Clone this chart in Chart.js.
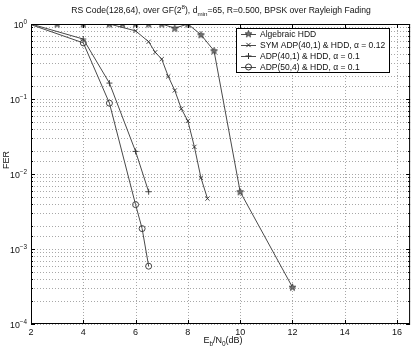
<!DOCTYPE html>
<html>
<head>
<meta charset="utf-8">
<script src="https://cdn.jsdelivr.net/npm/chart.js@4.4.1/dist/chart.umd.min.js"></script>
<style>
  html, body { margin: 0; padding: 0; background: #fff; }
  #wrap { width: 415px; height: 352px; }
</style>
</head>
<body>
<div id="wrap"><canvas id="grafica"></canvas></div>
<script>
// Datos (Eb/N0 en dB, FER)
const ebnoHdd = [3, 4, 5, 5.5, 6, 6.5, 7, 7.5, 8, 8.5, 9, 10, 12];
const ferHdd = [1, 1, 1, 1, 1, 1, 1, 0.88, 1, 0.72, 0.44, 0.0058, 0.00031];

const ebnoSym = [5, 6, 6.5, 6.75, 7, 7.25, 7.5, 7.75, 8, 8.25, 8.5, 8.75];
const ferSym = [1, 0.81, 0.58, 0.42, 0.34, 0.20, 0.13, 0.074, 0.051, 0.023, 0.0089, 0.0047];

const ebnoAdp40 = [2, 4, 5, 6, 6.5];
const ferAdp40 = [1, 0.63, 0.163, 0.02, 0.0058];

const ebnoAdp50 = [2, 4, 5, 6, 6.25, 6.5];
const ferAdp50 = [0.98, 0.56, 0.088, 0.0039, 0.00187, 0.00059];

const etiquetas = [
    'Algebraic HDD',
    'SYM ADP(40,1) & HDD, \u03B1 = 0.12',
    'ADP(40,1) & HDD, \u03B1 = 0.1',
    'ADP(50,4) & HDD, \u03B1 = 0.1'
];
const xTicks = [2, 4, 6, 8, 10, 12, 14, 16];
const yDecadas = [0, -1, -2, -3, -4];

const FUENTE = '"Liberation Sans", Arial, sans-serif';
const LINEA = '#4a4a4a';

// Estrella de cinco puntas como marcador
function crearEstrella() {
    const c = document.createElement('canvas');
    c.width = 9; c.height = 9;
    const g = c.getContext('2d');
    g.beginPath();
    for (let i = 0; i < 10; i++) {
        const r = i % 2 === 0 ? 3.6 : 1.5;
        const a = -Math.PI / 2 + i * Math.PI / 5;
        const px = 4.5 + r * Math.cos(a), py = 4.8 + r * Math.sin(a);
        i === 0 ? g.moveTo(px, py) : g.lineTo(px, py);
    }
    g.closePath();
    g.fillStyle = '#777';
    g.fill();
    g.strokeStyle = '#333';
    g.lineWidth = 0.8;
    g.stroke();
    return c;
}
const estrella = crearEstrella();

const pares = (xs, ys) => xs.map((x, i) => ({ x: x, y: ys[i] }));
const radio = ctx => (ctx.raw && ctx.raw.x <= 2 ? 0 : 3);

const series = [
    { label: etiquetas[0], data: pares(ebnoHdd, ferHdd), pointStyle: estrella },
    { label: etiquetas[1], data: pares(ebnoSym, ferSym), pointStyle: 'crossRot' },
    { label: etiquetas[2], data: pares(ebnoAdp40, ferAdp40), pointStyle: 'cross' },
    { label: etiquetas[3], data: pares(ebnoAdp50, ferAdp50), pointStyle: 'circle' }
].map(s => Object.assign(s, {
    borderColor: LINEA,
    borderWidth: 1,
    backgroundColor: 'rgba(0,0,0,0)',
    pointBackgroundColor: 'rgba(0,0,0,0)',
    pointBorderColor: '#333',
    pointBorderWidth: 0.9,
    pointRadius: radio,
    tension: 0,
    fill: false
}));

// Texto con subindices / superindices
function textoRico(ctx, partes, x, y, size, align) {
    let ancho = 0;
    partes.forEach(p => {
        ctx.font = (p.s ? size * 0.72 : size) + 'px ' + FUENTE;
        ancho += ctx.measureText(p.t).width;
    });
    let cx = align === 'center' ? x - ancho / 2 : (align === 'right' ? x - ancho : x);
    ctx.textAlign = 'left';
    ctx.textBaseline = 'alphabetic';
    partes.forEach(p => {
        ctx.font = (p.s ? size * 0.72 : size) + 'px ' + FUENTE;
        const dy = p.s === 'sup' ? -size * 0.42 : (p.s === 'sub' ? size * 0.3 : 0);
        ctx.fillText(p.t, cx, y + dy);
        cx += ctx.measureText(p.t).width;
    });
}

// Rejilla punteada al estilo MATLAB
const rejilla = {
    id: 'rejilla',
    beforeDatasetsDraw(chart) {
        const { ctx, chartArea: a, scales } = chart;
        ctx.save();
        ctx.strokeStyle = '#a8a8a8';
        ctx.lineWidth = 1;
        ctx.setLineDash([1, 2]);
        ctx.beginPath();
        xTicks.forEach(v => {
            const px = Math.round(scales.x.getPixelForValue(v)) + 0.5;
            ctx.moveTo(px, a.top); ctx.lineTo(px, a.bottom);
        });
        scales.y.ticks.forEach(t => {
            const py = Math.round(scales.y.getPixelForValue(t.value)) + 0.5;
            ctx.moveTo(a.left, py); ctx.lineTo(a.right, py);
        });
        ctx.stroke();
        ctx.restore();
    }
};

const decoracion = {
    id: 'decoracion',
    afterDraw(chart) {
        const { ctx, chartArea: a, scales } = chart;
        const sx = scales.x, sy = scales.y;
        ctx.save();

        // Marco de los ejes
        ctx.strokeStyle = '#000';
        ctx.lineWidth = 1;
        ctx.strokeRect(a.left + 0.5, a.top + 0.5, a.right - a.left - 1, a.bottom - a.top - 1);

        // Marcas hacia dentro
        ctx.beginPath();
        xTicks.forEach(v => {
            const px = Math.round(sx.getPixelForValue(v)) + 0.5;
            ctx.moveTo(px, a.bottom); ctx.lineTo(px, a.bottom - 4);
            ctx.moveTo(px, a.top); ctx.lineTo(px, a.top + 4);
        });
        sy.ticks.forEach(t => {
            const py = Math.round(sy.getPixelForValue(t.value)) + 0.5;
            const mayor = Math.abs(Math.log10(t.value) - Math.round(Math.log10(t.value))) < 1e-6;
            const l = mayor ? 4 : 2;
            ctx.moveTo(a.left, py); ctx.lineTo(a.left + l, py);
            ctx.moveTo(a.right, py); ctx.lineTo(a.right - l, py);
        });
        ctx.stroke();

        ctx.fillStyle = '#111';
        // Etiquetas del eje X
        xTicks.forEach(v => {
            textoRico(ctx, [{ t: String(v) }], sx.getPixelForValue(v), a.bottom + 11, 9, 'center');
        });

        // Etiquetas del eje Y
        yDecadas.forEach(e => {
            const py = sy.getPixelForValue(Math.pow(10, e));
            textoRico(ctx, [{ t: '10' }, { t: e === 0 ? '0' : '\u2212' + (-e), s: 'sup' }], a.left - 4, py + 3.5, 8.8, 'right');
        });

        // Titulo
        textoRico(ctx, [
            { t: 'RS Code(128,64), over GF(2' }, { t: '8', s: 'sup' },
            { t: '), d' }, { t: 'min', s: 'sub' },
            { t: '=65, R=0.500, BPSK over Rayleigh Fading' }
        ], 221, 13, 8.6, 'center');

        // Titulo eje X
        textoRico(ctx, [{ t: 'E' }, { t: 'b', s: 'sub' }, { t: '/N' }, { t: '0', s: 'sub' }, { t: '(dB)' }],
            223, 343, 9, 'center');

        // Titulo eje Y
        ctx.save();
        ctx.translate(9, 160);
        ctx.rotate(-Math.PI / 2);
        textoRico(ctx, [{ t: 'FER' }], 0, 0, 9, 'center');
        ctx.restore();

        // Leyenda
        const bx = 236, by = 28, bw = 153, bh = 44, fila = 11;
        ctx.fillStyle = '#fff';
        ctx.fillRect(bx, by, bw, bh);
        ctx.strokeStyle = '#000';
        ctx.strokeRect(bx + 0.5, by + 0.5, bw, bh);
        chart.data.datasets.forEach((ds, i) => {
            const yy = by + 5.5 + i * fila;
            ctx.strokeStyle = LINEA;
            ctx.beginPath();
            ctx.moveTo(bx + 5, Math.round(yy) + 0.5);
            ctx.lineTo(bx + 20, Math.round(yy) + 0.5);
            ctx.stroke();
            if (ds.pointStyle instanceof HTMLCanvasElement) {
                ctx.drawImage(ds.pointStyle, bx + 12.5 - 4.5, yy - 4.3);
            } else {
                ctx.strokeStyle = '#333';
                ctx.fillStyle = 'rgba(0,0,0,0)';
                Chart.helpers.drawPoint(ctx, { pointStyle: ds.pointStyle, radius: 3, borderWidth: 0.9 }, bx + 12.5, yy + 0.5);
            }
            ctx.fillStyle = '#111';
            textoRico(ctx, [{ t: ds.label }], bx + 24, yy + 3.3, 8.5, 'left');
        });
        ctx.restore();
    }
};

new Chart(document.getElementById('grafica'), {
    type: 'line',
    data: { datasets: series },
    options: {
        responsive: true,
        maintainAspectRatio: false,
        animation: false,
        events: [],
        layout: { padding: { top: 24, right: 3, left: 0, bottom: 0 } },
        plugins: {
            legend: { display: false },
            title: { display: false },
            tooltip: { enabled: false }
        },
        scales: {
            x: {
                type: 'linear',
                min: 2,
                max: 16.5,
                afterBuildTicks: s => { s.ticks = xTicks.map(v => ({ value: v })); },
                afterFit: s => { s.height = 28; },
                grid: { display: false, drawTicks: false },
                border: { display: false },
                ticks: { callback: () => '' }
            },
            y: {
                type: 'logarithmic',
                min: 1e-4,
                max: 1,
                afterFit: s => { s.width = 31; },
                grid: { display: false, drawTicks: false },
                border: { display: false },
                ticks: { autoSkip: false, callback: () => '' }
            }
        }
    },
    plugins: [rejilla, decoracion]
});
</script>
</body>
</html>
